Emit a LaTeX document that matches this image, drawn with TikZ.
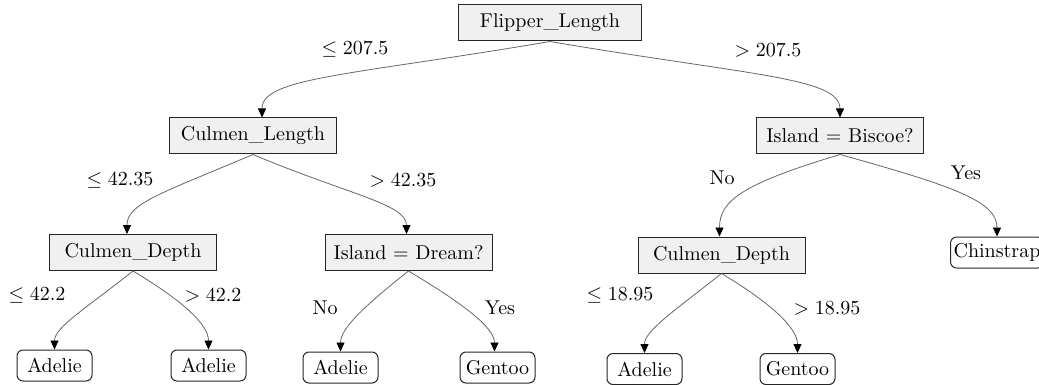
\documentclass[tikz,border=0pt]{standalone}
\usetikzlibrary{arrows.meta}
\begin{document}
\begin{tikzpicture}[x=0.5pt,y=-0.5pt,
  split/.style={draw=black!85, line width=0.5pt, fill=black!6, minimum width=83.5pt, minimum height=18pt, inner xsep=4pt, inner ysep=0pt},
  leaf/.style={draw=black!85, line width=0.5pt, rounded corners=3pt, minimum width=37.5pt, minimum height=15.5pt, inner xsep=1.5pt, inner ysep=0pt},
  edge/.style={draw=black!60, line width=0.4pt, -{Triangle[length=4.5pt,width=4pt,color=black]}},
  lbl/.style={inner sep=0pt}]
\useasboundingbox (0,0) rectangle (1039,385);

\node[split, minimum width=91.5pt] (fl) at (550,23) {Flipper\_Length};
\node[split] (cl) at (253,136) {Culmen\_Length};
\node[split] (bis) at (840,136) {Island = Biscoe?};
\node[split] (cdl) at (133,252.5) {Culmen\_Depth};
\node[split] (dr) at (408.5,252.5) {Island = Dream?};
\node[split] (cdr) at (721.5,255) {Culmen\_Depth};
\node[leaf] (chin) at (997,252.5) {Chinstrap};
\node[leaf] (a1) at (54.5,365.5) {Adelie};
\node[leaf] (a2) at (208.5,365.5) {Adelie};
\node[leaf] (a3) at (340.5,367.5) {Adelie};
\node[leaf] (g1) at (497.5,367.5) {Gentoo};
\node[leaf] (a4) at (644.5,369) {Adelie};
\node[leaf] (g2) at (797.5,369) {Gentoo};

\draw[edge] (fl.south) .. controls +(-200,34) and +(0,-40) .. ([xshift=4.5pt]cl.north);
\draw[edge] (fl.south) .. controls +(200,34) and +(0,-40) .. (bis.north);
\draw[edge] (cl.south) .. controls +(-95,40) and +(0,-30) .. ([xshift=-3pt]cdl.north);
\draw[edge] (cl.south) .. controls +(95,40) and +(0,-30) .. ([xshift=-1pt]dr.north);
\draw[edge] (bis.south) .. controls +(-100,30) and +(0,-35) .. ([xshift=-1pt]cdr.north);
\draw[edge] (bis.south) .. controls +(115,32) and +(0,-35) .. (chin.north);
\draw[edge] (cdl.south) .. controls +(-48,38) and +(0,-22) .. (a1.north);
\draw[edge] (cdl.south) .. controls +(50,30) and +(0,-25) .. (a2.north);
\draw[edge] (dr.south) .. controls +(-48,38) and +(0,-22) .. (a3.north);
\draw[edge] (dr.south) .. controls +(50,30) and +(0,-25) .. ([xshift=-1.5pt]g1.north);
\draw[edge] (cdr.south) .. controls +(-48,38) and +(0,-22) .. (a4.north);
\draw[edge] (cdr.south) .. controls +(50,30) and +(0,-25) .. (g2.north);

\node[lbl] (t1) at (355,49) {$\leq 207.5$};
\node[lbl] (t2) at (768,50) {$> 207.5$};
\node[lbl] (t3) at (120,180) {$\leq 42.35$};
\node[lbl] (t4) at (403,180) {$> 42.35$};
\node[lbl] (t5) at (722,178) {No};
\node[lbl] (t6) at (966,173) {Yes};
\node[lbl] (t7) at (37,295) {$\leq 42.2$};
\node[lbl] (t8) at (213,295) {$> 42.2$};
\node[lbl] (t9) at (325,308) {No};
\node[lbl] (t10) at (500,308) {Yes};
\node[lbl] (t11) at (620,295) {$\leq 18.95$};
\node[lbl] (t12) at (827,308) {$> 18.95$};
\end{tikzpicture}
\end{document}
